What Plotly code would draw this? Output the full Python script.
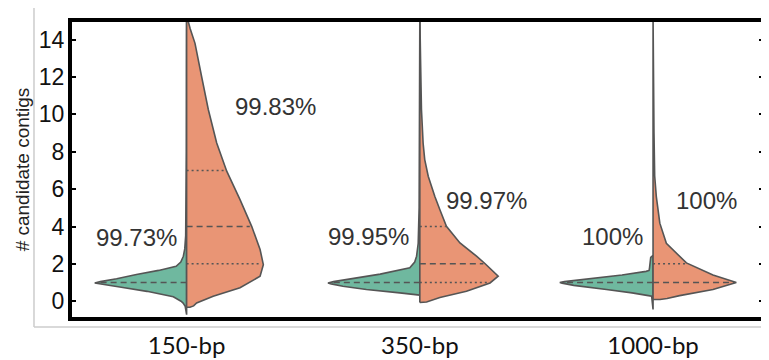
import numpy as np
import plotly.graph_objects as go

categories = ["150-bp", "350-bp", "1000-bp"]

# density profiles (y level, half-width in category units)
g150_y = [-0.72, -0.4, -0.27, -0.1, 0.0, 0.24, 0.53, 0.75, 0.9, 0.98, 1.05, 1.2, 1.43, 1.65, 1.87, 2.1, 2.41, 2.8, 3.5, 5, 8, 12, 15.3]
g150_w = [0.0, 0.002, 0.006, 0.015, 0.024, 0.057, 0.17, 0.28, 0.36, 0.394, 0.37, 0.3, 0.215, 0.12, 0.045, 0.025, 0.014, 0.008, 0.004, 0.002, 0.001, 0.0005, 0.0]
o150_y = [-0.32, -0.32, -0.25, -0.09, 0.27, 0.72, 1.34, 1.96, 2.77, 4.01, 5.44, 6.96, 8.47, 10.26, 12.04, 13.8, 14.6, 15.3]
o150_w = [0.0, 0.014, 0.03, 0.043, 0.114, 0.229, 0.315, 0.329, 0.315, 0.279, 0.229, 0.172, 0.129, 0.093, 0.064, 0.036, 0.015, 0.0]

g350_y = [0.33, 0.36, 0.45, 0.63, 0.8, 0.93, 0.98, 1.05, 1.2, 1.45, 1.79, 2.1, 2.41, 3.1, 5, 8, 12, 15.3]
g350_w = [0.0, 0.03, 0.086, 0.229, 0.33, 0.38, 0.394, 0.37, 0.29, 0.17, 0.043, 0.022, 0.014, 0.007, 0.003, 0.002, 0.001, 0.0]
o350_y = [-0.07, -0.07, -0.04, 0.2, 0.54, 0.98, 1.34, 2.02, 2.41, 3.12, 4.01, 4.9, 5.62, 6.69, 7.58, 8.47, 10.26, 13.0, 15.3]
o350_w = [0.0, 0.015, 0.029, 0.086, 0.2, 0.301, 0.336, 0.279, 0.243, 0.172, 0.114, 0.086, 0.064, 0.036, 0.021, 0.014, 0.007, 0.003, 0.0]

g1000_y = [-0.44, 0.2, 0.27, 0.3, 0.45, 0.63, 0.85, 0.97, 1.0, 1.05, 1.2, 1.4, 1.6, 1.65, 1.8, 2.1, 2.35, 2.45]
g1000_w = [0.0, 0.003, 0.006, 0.02, 0.09, 0.2, 0.34, 0.39, 0.4, 0.38, 0.267, 0.133, 0.03, 0.017, 0.015, 0.014, 0.01, 0.0]
o1000_y = [0.09, 0.09, 0.15, 0.3, 0.63, 1.0, 1.4, 2.05, 3.1, 4.18, 5.6, 6.7, 9.0, 12.0, 15.3]
o1000_w = [0.0, 0.03, 0.06, 0.114, 0.257, 0.357, 0.257, 0.143, 0.057, 0.029, 0.014, 0.007, 0.004, 0.002, 0.0]

# quartiles (q1, median, q3)
green_quartiles = [[1, 1, 1], [1, 1, 1], [1, 1, 1]]
orange_quartiles = [[2, 4, 7], [1, 2, 4], [1, 1, 2]]

green_pct = ["99.73%", "99.95%", "100%"]
orange_pct = ["99.83%", "99.97%", "100%"]

y_ticks = [0, 2, 4, 6, 8, 10, 12, 14]

GREEN = "#6fb89f"
ORANGE = "#e99575"
EDGE = "#555555"

green_profiles = [(g150_y, g150_w), (g350_y, g350_w), (g1000_y, g1000_w)]
orange_profiles = [(o150_y, o150_w), (o350_y, o350_w), (o1000_y, o1000_w)]

fig = go.Figure()


def half(c, ys, ws, side, color):
    ys = np.asarray(ys, float)
    ws = np.asarray(ws, float)
    xs = c + side * ws
    px = list(xs) + [c, c]
    py = list(ys) + [ys[-1], ys[0]]
    px.append(px[0])
    py.append(py[0])
    fig.add_trace(go.Scatter(x=px, y=py, mode="lines", fill="toself", fillcolor=color,
                             line=dict(color=EDGE, width=1.6), hoverinfo="skip", showlegend=False))


for i in range(len(categories)):
    half(i, *green_profiles[i], -1, GREEN)
    half(i, *orange_profiles[i], 1, ORANGE)

for i in range(len(categories)):
    for side, profs, quarts in ((-1, green_profiles, green_quartiles), (1, orange_profiles, orange_quartiles)):
        ys, ws = profs[i]
        q1, med, q3 = quarts[i]
        for k, q in enumerate((q1, med, q3)):
            if k != 1 and q == med:
                continue
            wq = float(np.interp(q, ys, ws)) * 0.97
            dash = "6px,4px" if k == 1 else "2px,3px"
            fig.add_trace(go.Scatter(x=[i, i + side * wq], y=[q, q], mode="lines",
                                     line=dict(color=EDGE, width=1.5, dash=dash),
                                     hoverinfo="skip", showlegend=False))

label_x_green = [-0.213, 0.782, 1.827]
label_x_orange = [0.379, 1.284, 2.228]
label_y_green = [3.41, 3.48, 3.48]
label_y_orange = [10.43, 5.4, 5.4]
annotations = []
for i in range(len(categories)):
    annotations.append(dict(x=label_x_green[i], y=label_y_green[i], text=green_pct[i], showarrow=False,
                            xref="x", yref="y", font=dict(size=24, color="#333333", family="Liberation Sans, Arial")))
    annotations.append(dict(x=label_x_orange[i], y=label_y_orange[i], text=orange_pct[i], showarrow=False,
                            xref="x", yref="y", font=dict(size=24, color="#333333", family="Liberation Sans, Arial")))

shapes = [
    dict(type="line", xref="paper", yref="paper", x0=-0.0518, x1=-0.0518, y0=-0.027, y1=1.04,
         line=dict(color="#cccccc", width=1.5), layer="below"),
    dict(type="line", xref="paper", yref="paper", x0=-0.0518, x1=1.01, y0=-0.027, y1=-0.027,
         line=dict(color="#cccccc", width=1.5), layer="below"),
    dict(type="rect", xref="paper", yref="paper", x0=0, x1=1, y0=0, y1=1,
         line=dict(color="black", width=4), layer="above"),
]

# the page body adds an 8px offset, so the figure is sized/margined to land the plot at the reference position
fig.update_layout(
    width=761, height=352,
    margin=dict(l=62, r=4, t=12, b=41, autoexpand=False),
    paper_bgcolor="white", plot_bgcolor="white",
    showlegend=False,
    annotations=annotations,
    shapes=shapes,
    xaxis=dict(range=[-0.5, 2.48], tickmode="array", tickvals=list(range(len(categories))),
               ticktext=categories, showgrid=False, zeroline=False, ticks="", automargin=False,
               ticklabelstandoff=10,
               tickfont=dict(family="Lato, Liberation Sans", size=24, color="#111111")),
    yaxis=dict(range=[-0.95, 15.05], tickmode="array", tickvals=y_ticks, automargin=False,
               ticktext=[str(v) for v in y_ticks], showgrid=False, zeroline=False,
               ticks="inside", ticklen=6, tickwidth=1.5, tickcolor="black",
               showline=True, linecolor="black", linewidth=1, mirror="ticks",
               tickfont=dict(family="Liberation Sans, Arial", size=23, color="#111111"),
               title=dict(text="# candidate contigs", standoff=4,
                          font=dict(family="Liberation Sans, Arial", size=19, color="#222222"))),
)

fig.write_html("out.html")
